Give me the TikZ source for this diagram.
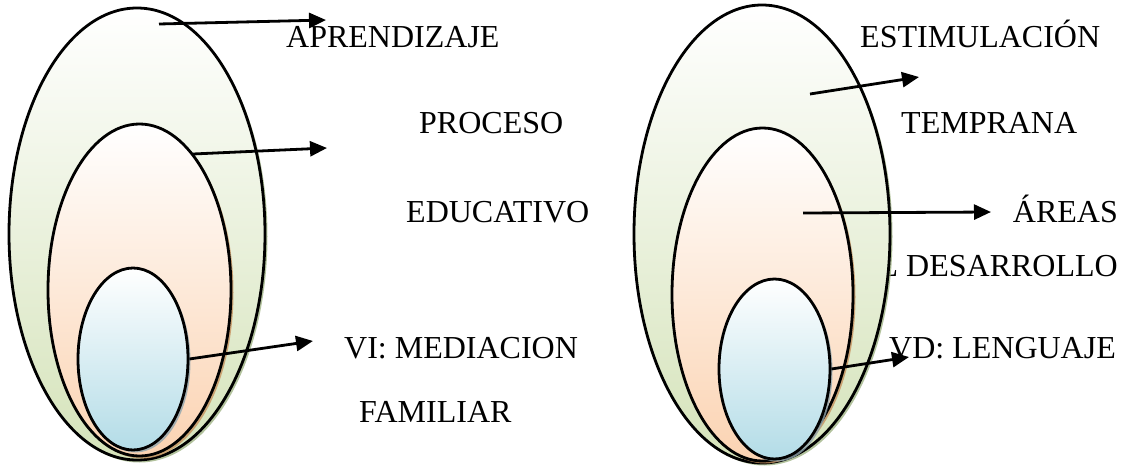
\documentclass[tikz,border=0pt]{standalone}
\usepackage{fontspec}
\setmainfont{Liberation Serif}
\usepackage{tikz}
\usetikzlibrary{shapes.geometric,shadows,arrows.meta}
\definecolor{eggGreen}{HTML}{D5E3BA}
\definecolor{eggPeach}{HTML}{FBD3B2}
\definecolor{eggBlue}{HTML}{B3DCE7}
\definecolor{shGreen}{HTML}{9FB384}
\definecolor{shPeach}{HTML}{C7925F}
\definecolor{shBlue}{HTML}{8FA5AE}
\tikzset{
  oval/.style={shape=ellipse,inner sep=0pt,draw=black,line width=2.8pt},
  oval outer/.style={oval,top color=white,bottom color=eggGreen,
    drop shadow={shadow xshift=2.5pt,shadow yshift=-2.5pt,fill=shGreen,opacity=.8}},
  oval middle/.style={oval,top color=white,bottom color=eggPeach,
    drop shadow={shadow xshift=2.5pt,shadow yshift=-2.5pt,fill=shPeach,opacity=.8}},
  oval inner/.style={oval,top color=white,bottom color=eggBlue,
    drop shadow={shadow xshift=2.5pt,shadow yshift=-2.5pt,fill=shBlue,opacity=.8}},
  lbl/.style={inner sep=0pt,anchor=base west,font=\fontsize{32pt}{38pt}\selectfont},
  pointer/.style={line width=2.8pt,-{Triangle[length=17pt,width=15pt]}}
}
\begin{document}
\begin{tikzpicture}[x=1pt,y=-1pt]
      \useasboundingbox (0,0) rectangle (1128,466);
      % labels first, the ovals hide part of them
      \node[lbl] (apr) at (286,47) {APRENDIZAJE};
      \node[lbl] (pro) at (419,133) {PROCESO};
      \node[lbl] (edu) at (406,222) {EDUCATIVO};
      \node[lbl] (vi) at (344,358) {VI: MEDIACION};
      \node[lbl] (fam) at (359,422) {FAMILIAR};
      \node[lbl] (est) at (860,47) {ESTIMULACIÓN};
      \node[lbl] (tem) at (901,133) {TEMPRANA};
      \node[lbl,anchor=base east] (are) at (1118,222) {ÁREAS};
      \node[lbl,anchor=base east] (des) at (1118,276) {DEL DESARROLLO};
      \node[lbl] (vd) at (889,358) {VD: LENGUAJE};
      % left egg
      \node[oval outer,minimum width=256pt,minimum height=452pt] (L1) at (137,234) {};
      \node[oval middle,minimum width=183pt,minimum height=332pt] (L2) at (139.5,290) {};
      \node[oval inner,minimum width=110pt,minimum height=182pt] (L3) at (133,359) {};
      % right egg
      \node[oval outer,minimum width=256pt,minimum height=458pt] (R1) at (762,234) {};
      \node[oval middle,minimum width=181pt,minimum height=333pt] (R2) at (762.5,294.5) {};
      \node[oval inner,minimum width=111pt,minimum height=180pt] (R3) at (774.5,369) {};
      % arrow tails and tips
      \coordinate (a1) at (159,24);  \coordinate (b1) at (326,20);
      \coordinate (a2) at (193,154); \coordinate (b2) at (327,148);
      \coordinate (a3) at (L3.east); \coordinate (b3) at (313,341);
      \coordinate (a4) at (810,94);  \coordinate (b4) at (919,77);
      \coordinate (a5) at (803,213); \coordinate (b5) at (991,212);
      \coordinate (a6) at (R3.east); \coordinate (b6) at (909,357);
      \foreach \i in {1,...,6}
        \draw[pointer] (a\i) -- (b\i);
    \end{tikzpicture}
\end{document}
